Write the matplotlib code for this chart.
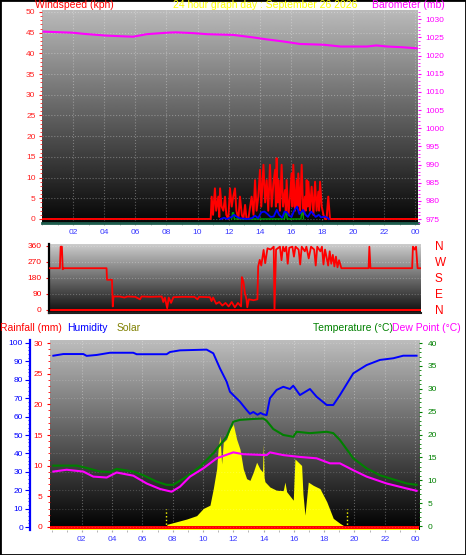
"""
Weather Display style 24 hour graph: wind/barometer, wind direction,
rain/humidity/solar/temperature/dew point.
Output: out.png (466 x 555 px)
"""
import numpy as np
import matplotlib
matplotlib.use("Agg")
import matplotlib.pyplot as plt
from matplotlib.patches import Rectangle
from matplotlib.ticker import MultipleLocator

plt.rcParams["font.family"] = ["Liberation Sans", "DejaVu Sans"]

# ── Config ────────────────────────────────────────────────────────────────────
W, H = 466, 555
TICK_FS  = 6
TITLE_FS = 7.5

RED     = "#ff0000"
BLUE    = "#0000ff"
MAGENTA = "#ff00ff"
GREEN   = "#008000"
YELLOW  = "#ffff00"
OLIVE   = "#808000"
XLABEL  = "#3838ff"

# ── Data (hour of day, value) ─────────────────────────────────────────────────
HOUR_TICKS  = [2, 4, 6, 8, 10, 12, 14, 16, 18, 20, 22, 24]
HOUR_LABELS = ["02", "04", "06", "08", "10", "12", "14", "16", "18", "20", "22", "00"]

BARO = [(0.1, 1026.6), (2.0, 1026.3), (2.66, 1026.0), (4.16, 1025.5), (5.86, 1025.2),
        (6.73, 1025.9), (8.0, 1026.3), (8.6, 1026.4), (9.7, 1026.2), (10.6, 1025.9),
        (12.3, 1025.7), (13.6, 1025.0), (14.4, 1024.5), (15.5, 1023.9), (16.6, 1023.2),
        (18.1, 1023.0), (19.2, 1022.5), (20.9, 1022.5), (21.5, 1022.8), (22.2, 1022.5),
        (23.2, 1022.3), (24.1, 1022.0)]

GUST = [(0, 0), (10.85, 0), (10.91, 5.4), (11.0, 1), (11.12, 7.4), (11.2, 2), (11.34, 5.4),
        (11.4, 0.5), (11.45, 7.4), (11.55, 3), (11.66, 2), (11.77, 5.4), (11.85, 1), (11.98, 0),
        (12.09, 7.4), (12.2, 3), (12.30, 5.4), (12.41, 7.4), (12.5, 2), (12.63, 0), (12.73, 5.4),
        (12.85, 1), (12.95, 0), (13.06, 3.4), (13.15, 0), (13.27, 0), (13.48, 5.4), (13.6, 1),
        (13.70, 9.4), (13.8, 2), (13.91, 5.4), (14.02, 11.9), (14.1, 3), (14.24, 13.1), (14.35, 4),
        (14.45, 9.4), (14.55, 2), (14.66, 13.1), (14.77, 3), (14.88, 8.6), (14.99, 11.9),
        (15.04, 3), (15.09, 14.7), (15.15, 4), (15.20, 9.4), (15.3, 2), (15.41, 13.1), (15.5, 3),
        (15.63, 7), (15.68, 2), (15.73, 9.4), (15.85, 1), (15.95, 5.4), (16.05, 11), (16.1, 3),
        (16.16, 13.1), (16.27, 2), (16.38, 9.4), (16.43, 3), (16.48, 11), (16.6, 2), (16.70, 13.1),
        (16.8, 1), (16.91, 5.4), (16.96, 2), (17.02, 9.4), (17.08, 3), (17.13, 9), (17.23, 2),
        (17.34, 7.8), (17.45, 1), (17.56, 9), (17.66, 2), (17.77, 6.6), (17.82, 2), (17.88, 9),
        (17.99, 3), (18.1, 1), (18.20, 0), (18.3, 0), (18.41, 5.4), (18.52, 0), (24.2, 0)]

AVG_WIND = [(11.5, 0), (11.7, 0.3), (11.9, 0), (12.2, 0.5), (12.35, 1.0), (12.5, 0.6),
            (12.7, 0.2), (13.2, 0), (13.5, 0.2), (13.7, 0.8), (13.9, 0.2), (14.1, 1.6),
            (14.3, 1.8), (14.5, 1.2), (14.7, 0.5), (14.9, 0.6), (15.1, 2.2), (15.25, 1.0),
            (15.45, 0.3), (15.6, 1.8), (15.75, 1.6), (15.9, 0.8), (16.05, 0.5), (16.2, 1.9),
            (16.4, 3.0), (16.55, 1.2), (16.8, 2.2), (16.95, 1.0), (17.1, 0.5), (17.3, 1.8),
            (17.45, 1.2), (17.6, 0.5), (17.8, 1.0), (17.95, 0.4), (18.2, 0.6), (18.35, 0.3),
            (18.45, 0)]

WIND_MIN = [(12.2, 0), (12.25, 1.5), (12.32, 1.5), (12.37, 0), (15.6, 0), (15.65, 1.5),
            (15.72, 1.5), (15.77, 0), (16.65, 0), (16.7, 1.5), (16.77, 1.5), (16.82, 0)]

WIND_DIR = [(0.5, 235), (1.15, 235), (1.2, 356), (1.28, 356), (1.33, 229), (1.4, 235),
            (4.15, 235), (4.18, 170), (4.5, 170), (4.55, 20), (4.6, 76), (5.0, 76), (5.3, 70),
            (5.5, 76), (6.0, 74), (6.3, 60), (6.4, 76), (7.0, 74), (7.7, 76), (7.8, 45),
            (7.9, 70), (8.05, 10), (8.15, 70), (8.3, 40), (8.45, 72), (9.0, 74), (9.8, 74),
            (10.0, 60), (10.1, 74), (10.8, 72), (10.9, 50), (11.0, 70), (11.2, 35), (11.4, 45),
            (11.6, 25), (11.8, 40), (12.0, 20), (12.2, 45), (12.4, 15), (12.6, 40), (12.8, 20),
            (12.85, 185), (12.95, 160), (13.05, 95), (13.15, 60), (13.2, 15), (13.3, 60),
            (13.6, 55), (13.85, 60), (13.9, 244), (14.0, 282), (14.1, 250), (14.25, 338),
            (14.35, 263), (14.5, 347), (14.7, 340), (14.9, 356), (14.95, 0), (15.05, 340),
            (15.3, 356), (15.4, 280), (15.5, 356), (15.6, 330), (15.7, 356), (15.8, 260),
            (15.9, 350), (16.1, 356), (16.2, 300), (16.3, 356), (16.5, 340), (16.6, 256),
            (16.7, 356), (16.9, 330), (17.0, 356), (17.15, 290), (17.3, 356), (17.5, 340),
            (17.6, 250), (17.7, 356), (17.9, 330), (18.0, 356), (18.1, 256), (18.2, 340),
            (18.4, 250), (18.5, 330), (18.6, 260), (18.7, 310), (18.8, 245), (18.9, 300),
            (19.0, 240), (19.1, 280), (19.25, 235), (21.0, 235), (21.05, 356), (21.12, 235),
            (23.8, 235), (23.85, 356), (23.95, 340), (24.05, 356), (24.15, 235), (24.4, 235)]
DIR_TICKS  = [0, 90, 180, 270, 360]
DIR_LABELS = ["N", "E", "S", "W", "N"]

RAIN = [(-0.2, 0), (24.3, 0)]

HUMIDITY = [(0.12, 93.1), (0.78, 94), (2.1, 94), (2.32, 93), (2.98, 93.5), (3.86, 94.7),
            (5.4, 94.7), (5.62, 93.9), (7.6, 93.9), (7.82, 95.1), (8.48, 96), (10.24, 96.4),
            (10.68, 94.4), (11.12, 86.2), (11.56, 79), (11.78, 73.5), (12.44, 68.1),
            (12.88, 63.6), (13.1, 61.5), (13.32, 62.5), (13.6, 61.0), (13.8, 62.0),
            (13.98, 61.2), (14.2, 60.8), (14.42, 70), (14.86, 74.5), (15.3, 76.2), (15.74, 75),
            (15.96, 76.8), (16.4, 71.7), (17.06, 75), (17.5, 70.8), (18.17, 66.3),
            (18.6, 66.3), (19.04, 71.7), (19.92, 83.5), (20.8, 88), (21.68, 90.8),
            (22.56, 91.7), (23.22, 93.1), (24.1, 93.1)]

TEMP = [(0.12, 13.2), (1.66, 13.2), (2.32, 12.7), (3.2, 11.9), (3.86, 11.8), (4.3, 12.5),
        (5.4, 11.9), (6.06, 11.1), (6.94, 9.7), (7.6, 9.0), (8.04, 9.0), (8.92, 10.8),
        (9.8, 13), (10.68, 15.9), (11.56, 19.5), (11.78, 21.2), (12.0, 22.8), (12.44, 23.2),
        (13.32, 23.4), (13.98, 23.5), (14.2, 23), (14.64, 21.2), (15.3, 19.9), (15.96, 19.5),
        (16.18, 20.6), (17.06, 20.3), (18.17, 20.6), (18.6, 20.3), (19.04, 18.8),
        (19.92, 14.8), (20.8, 12.6), (21.68, 11.1), (22.56, 10.2), (23.45, 9.3), (24.1, 9.0)]

DEWPOINT = [(0.12, 11.9), (1.0, 12.3), (2.1, 11.9), (2.76, 10.8), (3.64, 10.6), (4.3, 11.7),
            (5.4, 11.0), (6.28, 9.3), (7.16, 8.1), (7.93, 7.5), (8.48, 8.6), (9.14, 10.8),
            (10.02, 12.6), (10.9, 14.8), (12.0, 16.1), (12.66, 15.7), (14.2, 15.5),
            (14.42, 16.1), (15.3, 15.5), (16.4, 15.1), (17.5, 14.8), (18.38, 13.7),
            (19.04, 13.7), (19.92, 12.2), (20.8, 10.8), (22.12, 9.3), (23.45, 8.2),
            (24.1, 7.7)]

SOLAR = [(7.6, 0), (7.62, 23), (8.04, 33), (8.92, 54), (9.58, 74), (10.02, 116), (10.46, 135),
         (10.68, 232), (10.9, 347), (11.0, 463), (11.12, 540), (11.23, 376), (11.34, 502),
         (11.56, 521), (11.78, 579), (12.0, 608), (12.22, 521), (12.44, 463), (12.66, 347),
         (12.88, 290), (13.1, 280), (13.32, 328), (13.54, 386), (13.76, 347), (13.93, 330),
         (13.98, 492), (14.03, 300), (14.09, 272), (14.42, 241), (14.86, 222), (15.3, 220),
         (15.41, 270), (15.52, 214), (15.96, 164), (16.07, 405), (16.29, 386), (16.51, 367),
         (16.6, 200), (16.73, 77), (16.95, 270), (17.28, 251), (17.72, 232), (18.17, 155),
         (18.6, 58), (19.04, 29), (19.26, 17), (19.4, 0)]
SUN_MARKS = [7.55, 19.5]


# ── Helpers ───────────────────────────────────────────────────────────────────

def px_rect(left, top, right, bottom):
    return [left / W, 1 - bottom / H, (right - left) / W, (bottom - top) / H]


def shade(ax, top, bottom):
    grad = np.linspace(top, bottom, 256).reshape(-1, 1)
    ax.imshow(grad, cmap="gray", vmin=0, vmax=1, aspect="auto",
              extent=(0, 1, 0, 1), transform=ax.transAxes, zorder=0)


def overlay(fig, base):
    ax = fig.add_axes(base.get_position(), sharex=base)
    ax.set_facecolor("none")
    for s in ax.spines.values():
        s.set_visible(False)
    ax.tick_params(axis="x", which="both", bottom=False, labelbottom=False)
    return ax


def xy(pairs):
    return [p[0] for p in pairs], [p[1] for p in pairs]


def hide_spines(ax):
    for s in ax.spines.values():
        s.set_visible(False)


def hour_axis(ax):
    ax.set_xticks(HOUR_TICKS, HOUR_LABELS)
    ax.xaxis.set_minor_locator(MultipleLocator(1))
    ax.tick_params(axis="x", which="both", color="#a8a8a8", labelcolor=XLABEL,
                   labelsize=TICK_FS, length=1.5, pad=2.5)


def y_ticks(ax, color, major, minor, lo, hi, side="left", length=2.2, pad=1.5):
    ax.set_ylim(lo, hi)
    ax.yaxis.set_major_locator(MultipleLocator(major))
    if minor:
        ax.yaxis.set_minor_locator(MultipleLocator(minor))
    if side == "right":
        ax.yaxis.tick_right()
    ax.tick_params(axis="y", which="both", color=color, labelcolor=color,
                   labelsize=TICK_FS, pad=pad)
    ax.tick_params(axis="y", which="major", length=length)
    ax.tick_params(axis="y", which="minor", length=1.2)


# ── Figure ────────────────────────────────────────────────────────────────────
fig = plt.figure(figsize=(W / 100, H / 100), dpi=100)
fig.patch.set_facecolor("white")

# ── Wind speed / barometer ────────────────────────────────────────────────────
ax_w = fig.add_axes(px_rect(42, 10, 418, 223))
shade(ax_w, 0.73, 0.02)
ax_w.plot(*xy(GUST), color=RED, lw=1.4, zorder=3)
ax_w.plot(*xy(WIND_MIN), color="#00a000", lw=1.0, zorder=4)
ax_w.plot(*xy(AVG_WIND), color=BLUE, lw=1.3, zorder=5)
ax_w.set_xlim(0, 24.18)
y_ticks(ax_w, "#ff2020", 5, 1, -0.97, 50.48, pad=2.5)
hour_axis(ax_w)
ax_w.grid(True, which="major", color="white", alpha=0.3, ls=":", lw=0.8)
hide_spines(ax_w)
ax_w.spines["bottom"].set_visible(True)
ax_w.spines["bottom"].set_color("#1d5c4c")
ax_w.spines["bottom"].set_linewidth(2)

ax_b = overlay(fig, ax_w)
ax_b.plot(*xy(BARO), color=MAGENTA, lw=1.5)
y_ticks(ax_b, MAGENTA, 5, 1, 973.9, 1032.56, side="right", pad=3)

# ── Wind direction ────────────────────────────────────────────────────────────
ax_d = fig.add_axes(px_rect(49, 244, 421, 313))
shade(ax_d, 0.8, 0.05)
ax_d.axhline(0, color=RED, lw=1.5, zorder=2)
ax_d.plot(*xy(WIND_DIR), color=RED, lw=1.3, zorder=3)
ax_d.set_xlim(0.45, 24.37)
ax_d.set_ylim(-16.9, 371.2)
ax_d.set_yticks(DIR_TICKS)
ax_d.tick_params(axis="y", color=RED, labelcolor=RED, labelsize=TICK_FS, length=2.2, pad=3)
ax_d.tick_params(axis="x", bottom=False, labelbottom=False)
ax_d.grid(True, axis="y", color="white", alpha=0.25, ls=":", lw=0.8)
for side in ["top", "right"]:
    ax_d.spines[side].set_visible(False)
ax_d.spines["left"].set_color("black")
ax_d.spines["left"].set_linewidth(1.6)
ax_d.spines["bottom"].set_color("#202020")
ax_d.spines["bottom"].set_linewidth(1.5)

ax_dl = overlay(fig, ax_d)
ax_dl.set_ylim(ax_d.get_ylim())
ax_dl.yaxis.tick_right()
ax_dl.set_yticks(DIR_TICKS, DIR_LABELS)
ax_dl.tick_params(axis="y", length=0, labelcolor=RED, labelsize=8.5, pad=10)

# ── Rain / humidity / solar / temperature / dew point ─────────────────────────
ax_s = fig.add_axes(px_rect(50, 340, 419, 530))
shade(ax_s, 0.74, 0.0)
sh, sv = xy(SOLAR)
ax_s.fill_between(sh, sv, 0, color=YELLOW, lw=0, zorder=2)
ax_s.axhline(0, color=YELLOW, lw=2.5, zorder=2)
ax_s.vlines(SUN_MARKS, 0, 110, colors=YELLOW, linestyles=":", lw=1.0, zorder=2)
ax_s.set_xlim(-0.1, 24.26)
ax_s.set_ylim(-10, 1100)
ax_s.set_yticks([])
hour_axis(ax_s)
ax_s.grid(True, axis="x", which="major", color="white", alpha=0.3, ls=":", lw=0.8)
hide_spines(ax_s)

ax_r = overlay(fig, ax_s)
ax_r.plot(*xy(RAIN), color=RED, lw=2.2)
y_ticks(ax_r, RED, 5, 1, -0.49, 30.49, length=2.2, pad=3)

ax_h = overlay(fig, ax_s)
ax_h.plot(*xy(HUMIDITY), color=BLUE, lw=1.4)
y_ticks(ax_h, BLUE, 10, 2, -1.63, 101.63, length=3.6, pad=1.5)
ax_h.spines["left"].set_visible(True)
ax_h.spines["left"].set_position(("outward", 14.4))
ax_h.spines["left"].set_color(BLUE)
ax_h.spines["left"].set_linewidth(1.6)
ax_h.grid(True, axis="y", color="white", alpha=0.18, ls=":", lw=0.8)

ax_t = overlay(fig, ax_s)
ax_t.plot(*xy(TEMP), color=GREEN, lw=1.5)
ax_t.plot(*xy(DEWPOINT), color=MAGENTA, lw=1.5)
y_ticks(ax_t, GREEN, 5, 1, -0.87, 40.66, side="right", length=2.2, pad=4)

# ── Titles ────────────────────────────────────────────────────────────────────
def title(x, y, s, color):
    fig.text(x / W, 1 - y / H, s, color=color, fontsize=TITLE_FS, va="baseline", ha="left")


title(35, 8.5, "Windspeed (kph)", RED)
title(173, 8.5, "24 hour graph day : September 26 2026", YELLOW)
title(372, 8.5, "Barometer (mb)", MAGENTA)
title(0.5, 331, "Rainfall (mm)", RED)
title(67, 331, "Humidity", BLUE)
title(117, 331, "Solar", OLIVE)
title(313, 331, "Temperature (\u00b0C)", GREEN)
title(392, 331, "Dew Point (\u00b0C)", MAGENTA)

fig.add_artist(Rectangle((0, 0), 1, 1, transform=fig.transFigure, fill=False,
                         ec="black", lw=2))

fig.savefig("out.png", dpi=100)
